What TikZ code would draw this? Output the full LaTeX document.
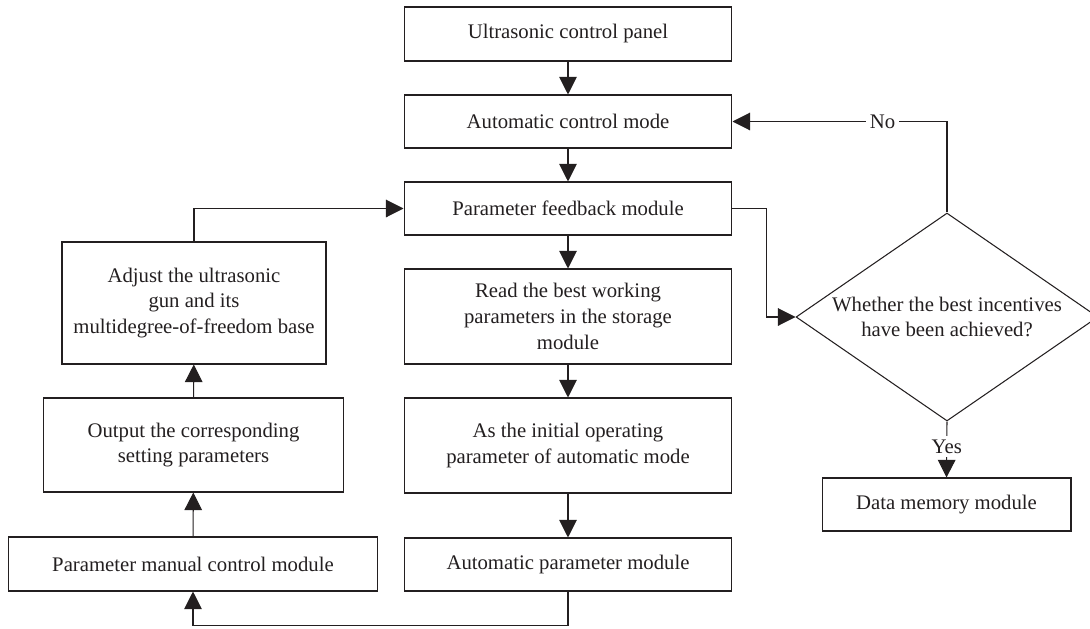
\documentclass[tikz,border=0pt]{standalone}
\usepackage{fontspec}
\setmainfont{Liberation Serif}
\usetikzlibrary{shapes.geometric,arrows.meta}
\definecolor{ink}{HTML}{231F20}
\begin{document}
\begin{tikzpicture}[x=0.02cm,y=-0.02cm,
  b/.style={draw=ink,line width=0.6pt,minimum width=6.56cm,minimum height=1.06cm,inner sep=0pt,align=center,text=ink,font=\fontsize{11.8}{14.6}\selectfont},
  d/.style={diamond,draw=ink,line width=0.6pt,minimum width=6.04cm,minimum height=4.16cm,aspect=1.45,inner sep=0pt,align=center,text=ink,font=\fontsize{11.8}{14.6}\selectfont},
  e/.style={draw=ink,line width=0.6pt,-{Triangle[length=10pt,width=10pt]}},
  lbl/.style={fill=white,inner sep=2pt,text=ink,font=\fontsize{11.8}{14.6}\selectfont}]
\useasboundingbox (0,0) rectangle (1090,629);
\node[b,minimum height=1.08cm] (panel) at (568,34) {Ultrasonic control panel};
\node[b] (automode) at (568,121.5) {Automatic control mode};
\node[b] (feedback) at (568,208.5) {Parameter feedback module};
\node[b,minimum height=1.9cm] (readbest) at (568,316.5) {Read the best working\\parameters in the storage\\module};
\node[b,minimum height=1.9cm] (initial) at (568,445.5) {As the initial operating\\parameter of automatic mode};
\node[b] (autoparam) at (568,564.5) {Automatic parameter module};
\node[b,minimum width=7.4cm,minimum height=1.08cm] (manual) at (193,564) {Parameter manual control module};
\node[b,minimum width=6.02cm,minimum height=1.88cm] (output) at (193.5,445) {Output the corresponding\\setting parameters};
\node[b,minimum width=5.28cm,minimum height=2.44cm] (adjust) at (194,303) {Adjust the ultrasonic\\gun and its\\multidegree-of-freedom base};
\node[d] (decide) at (947,317) {Whether the best incentives\\have been achieved?};
\node[b,minimum width=4.98cm] (memory) at (946.5,504.5) {Data memory module};
\draw[e] (panel) -- (automode);
\draw[e] (automode) -- (feedback);
\draw[e] (feedback) -- (readbest);
\draw[e] (readbest) -- (initial);
\draw[e] (initial) -- (autoparam);
\draw[e] (autoparam.south) -- ++(0,34) -| (manual.south);
\draw[e] (manual) -- (output);
\draw[e] (output) -- (adjust);
\draw[e] (adjust.north) |- (feedback.west);
\draw[e] (feedback.east) -- ++(34,0) |- (decide.west);
\draw[e] (decide.north) |- node[lbl,pos=0.65] {No} (automode.east);
\draw[e] (decide.south) -- node[lbl,pos=0.45] {Yes} (memory.north);
\end{tikzpicture}
\end{document}
